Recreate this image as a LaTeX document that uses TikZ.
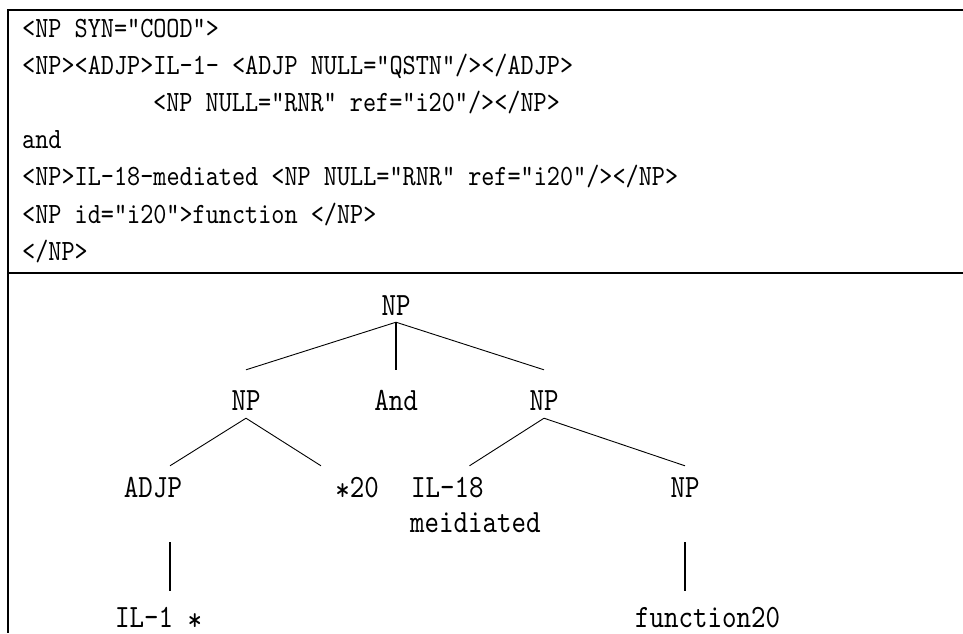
\documentclass[tikz,border=0pt]{standalone}
\usepackage{fontspec}
% narrow monospaced face for the markup and the tree labels
\newfontfamily\codefont{lmmono10-regular.otf}[FakeStretch=0.85]
\begin{document}
\begin{tikzpicture}[x=1pt,y=-1pt,
  border/.style={line width=1.6pt},
  codeline/.style={anchor=base west, inner sep=0pt,
    font=\codefont\fontsize{29.4pt}{30pt}\selectfont},
  treelabel/.style={inner sep=0pt, text height=20pt, text depth=0pt,
    font=\codefont\fontsize{32.5pt}{33pt}\selectfont},
  branch/.style={line width=0.9pt},
  stem/.style={line width=1.3pt}]
\useasboundingbox (0,0) rectangle (963,633);

% table rules
\draw[border] (963,10) -- (8,10) -- (8,633);
\draw[border] (8,273) -- (963,273);

% markup
\node[codeline] (c1) at (22,37)    {<NP SYN="COOD">};
\node[codeline] (c2) at (22,74.2)  {<NP><ADJP>IL-1- <ADJP NULL="QSTN"/></ADJP>};
\node[codeline] (c3) at (153,111.4){<NP NULL="RNR" ref="i20"/></NP>};
\node[codeline] (c4) at (22,148.6) {and};
\node[codeline] (c5) at (22,185.8) {<NP>IL-18-mediated <NP NULL="RNR" ref="i20"/></NP>};
\node[codeline] (c6) at (22,223)   {<NP id="i20">function </NP>};
\node[codeline] (c7) at (22,260.2) {</NP>};

% tree labels
\node[treelabel, anchor=base] (root) at (396,315) {NP};
\node[treelabel, anchor=base] (np1)  at (246,410) {NP};
\node[treelabel, anchor=base] (conj) at (396,410) {And};
\node[treelabel, anchor=base] (np2)  at (544,410) {NP};
\node[treelabel, anchor=base] (adjp) at (153,497) {ADJP};
\node[treelabel, anchor=base] (trace) at (357,497) {\raisebox{-0.1em}{*}20};
\node[treelabel, anchor=base west] (il18) at (411,497) {IL-18};
\node[treelabel, anchor=base west] (med)  at (410,532) {meidiated};
\node[treelabel, anchor=base] (np3)  at (685,497) {NP};
\node[treelabel, anchor=base west] (leafa) at (115,627) {IL-1 \raisebox{-0.1em}{*}};
\node[treelabel, anchor=base west] (leafb) at (635,627) {function20};

% branches
\draw[branch] ([yshift=-7pt]root.south) -- ([yshift=20pt]np1.north);
\draw[stem]   ([yshift=-7pt]root.south) -- ([yshift=20pt]conj.north);
\draw[branch] ([yshift=-7pt]root.south) -- ([yshift=20pt]np2.north);
\draw[branch] ([yshift=-8pt]np1.south) -- ([xshift=17pt,yshift=11pt]adjp.north);
\draw[branch] ([yshift=-8pt]np1.south) -- ([xshift=-36pt,yshift=11pt]trace.north);
\draw[branch] ([yshift=-8pt]np2.south) -- ([xshift=22pt,yshift=11pt]il18.north);
\draw[branch] ([yshift=-8pt]np2.south) -- ([yshift=11pt]np3.north);
\draw[stem] ([xshift=17pt,yshift=-45pt]adjp.south) -- ([xshift=17pt,yshift=16pt]adjp.south |- leafa.north);
\draw[stem] ([yshift=-45pt]np3.south) -- ([yshift=16pt]np3.south |- leafb.north);
\end{tikzpicture}
\end{document}
